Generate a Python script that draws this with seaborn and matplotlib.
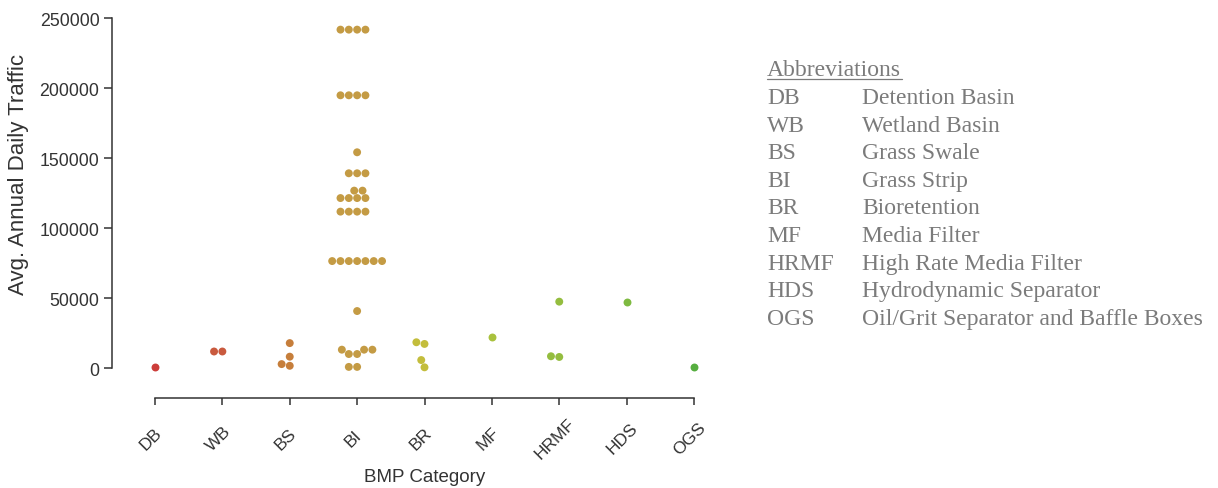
import matplotlib
matplotlib.use("Agg")
import matplotlib.pyplot as plt
from matplotlib.lines import Line2D
from matplotlib.transforms import ScaledTranslation
import pandas as pd
import seaborn as sns

# BMP categories and their full names
categories = ["DB", "WB", "BS", "BI", "BR", "MF", "HRMF", "HDS", "OGS"]
full_names = [
    "Detention Basin",
    "Wetland Basin",
    "Grass Swale",
    "Grass Strip",
    "Bioretention",
    "Media Filter",
    "High Rate Media Filter",
    "Hydrodynamic Separator",
    "Oil/Grit Separator and Baffle Boxes",
]

# Average annual daily traffic at each monitored site, by category
db_aadt = [1000]
wb_aadt = [12000, 12000]
bs_aadt = [1800, 3000, 8300, 18000]
bi_aadt = [1000, 1000, 10200, 10200, 13300, 13300, 13300, 40900,
           76600, 76600, 76600, 76600, 76600, 76600, 76600,
           111900, 111900, 111900, 111900,
           121600, 121600, 121600, 121600,
           126900, 126900,
           139300, 139300, 139300,
           154300,
           195000, 195000, 195000, 195000,
           241900, 241900, 241900, 241900]
br_aadt = [700, 5900, 17400, 18600]
mf_aadt = [22100]
hrmf_aadt = [8100, 8600, 47600]
hds_aadt = [47400]
ogs_aadt = [900]

yticks = [0, 50000, 100000, 150000, 200000, 250000]

palette = ["#cc3d3a", "#c95a3e", "#c67e3b", "#c49b44", "#c3bd3c",
           "#a9c13d", "#94bd3f", "#7eba41", "#56ae40"]

series = [db_aadt, wb_aadt, bs_aadt, bi_aadt, br_aadt,
          mf_aadt, hrmf_aadt, hds_aadt, ogs_aadt]
df = pd.DataFrame({
    "BMP": [c for c, vals in zip(categories, series) for _ in vals],
    "AADT": [v for vals in series for v in vals],
})

sns.set_theme(style="ticks")
plt.rcParams["font.family"] = ["Liberation Sans", "DejaVu Sans"]
text_dark = "#333333"
plt.rcParams.update({
    "axes.edgecolor": "#333333",
    "axes.linewidth": 1.1,
    "xtick.color": "#333333",
    "ytick.color": "#333333",
    "xtick.labelcolor": text_dark,
    "ytick.labelcolor": text_dark,
    "axes.labelcolor": text_dark,
    "xtick.major.size": 5,
    "ytick.major.size": 6,
    "xtick.major.width": 1.1,
    "ytick.major.width": 1.1,
})

W, H = 1218, 489
fig = plt.figure(figsize=(W / 100, H / 100), dpi=100)
ax_left, ax_right, ax_top, ax_bottom = 121.3, 727.7, 5.3, 383.3
ax = fig.add_axes([ax_left / W, 1 - ax_bottom / H,
                   (ax_right - ax_left) / W, (ax_bottom - ax_top) / H])

sns.swarmplot(data=df, x="BMP", y="AADT", hue="BMP", order=categories,
              hue_order=categories, palette=palette, size=5.7, linewidth=0,
              legend=False, ax=ax)

# Offset, trimmed spines (repositioning resets the tick objects, so do it first)
for side in ("top", "right"):
    ax.spines[side].set_visible(False)
ax.spines["left"].set_position(("outward", 6.7))
ax.spines["bottom"].set_position(("outward", 11.3))
ax.spines["left"].set_bounds(0, 250000)
ax.spines["bottom"].set_bounds(0, len(categories) - 1)

ax.set_xlim(-0.5, len(categories) - 0.5)
ax.set_ylim(-10000, 260000)
ax.set_yticks(yticks)
ax.set_yticklabels([str(t) for t in yticks])
ax.set_xticks(range(len(categories)))
ax.set_xticklabels(categories)
ax.tick_params(axis="y", labelsize=12.8, pad=3)
ax.tick_params(axis="x", labelsize=12.5, labelrotation=45, pad=24)
shift_left = ScaledTranslation(-0.04, 0, fig.dpi_scale_trans)
for lab in ax.get_xticklabels():
    lab.set_ha("center")
    lab.set_va("center")
    lab.set_transform(lab.get_transform() + shift_left)

ax.set_xlabel("BMP Category", fontsize=13.5)
ax.set_ylabel("Avg. Annual Daily Traffic", fontsize=16)
ax.xaxis.label.set_va("center")
ax.yaxis.label.set_va("center")
ax.xaxis.set_label_coords(0.5, (ax_bottom - 478) / (ax_bottom - ax_top))
ax.yaxis.set_label_coords((19 - ax_left) / (ax_right - ax_left),
                          (ax_bottom - 174) / (ax_bottom - ax_top))

# Abbreviation key
grey = "#7b7b7b"
serif = ["Liberation Serif", "DejaVu Serif"]
key_size = 17
x_abbr, x_name = 767, 862
fig.text(x_abbr / W, 1 - 76 / H, "Abbreviations", family=serif,
         color=grey, fontsize=key_size, va="baseline", ha="left")
fig.add_artist(Line2D([x_abbr / W, 902 / W], [1 - 79.5 / H, 1 - 79.5 / H],
                      transform=fig.transFigure, color=grey, lw=0.9))
for i, (abbr, name) in enumerate(zip(categories, full_names)):
    yb = 1 - (104 + i * 27.6) / H
    fig.text(x_abbr / W, yb, abbr, family=serif, color=grey,
             fontsize=key_size, va="baseline", ha="left")
    fig.text(x_name / W, yb, name, family=serif, color=grey,
             fontsize=key_size, va="baseline", ha="left")

fig.savefig("out.png", dpi=100)
